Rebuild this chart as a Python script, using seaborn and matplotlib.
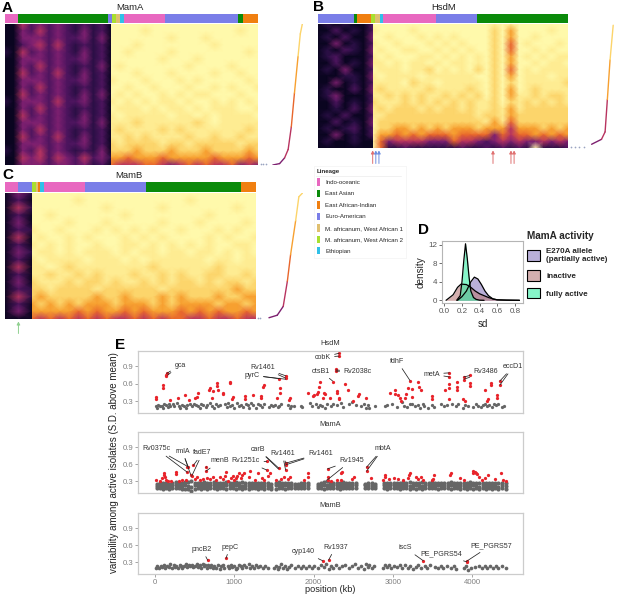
import numpy as np
import pandas as pd
import matplotlib
matplotlib.use("Agg")
import matplotlib.pyplot as plt
import seaborn as sns
from matplotlib.colors import LinearSegmentedColormap, to_rgb
from matplotlib.lines import Line2D
from matplotlib.patches import Patch

# shared lineage colours
lineage_names = ["Indo-oceanic", "East Asian", "East African-Indian", "Euro-American",
                 "M. africanum, West African 1", "M. africanum, West African 2", "Ethiopian"]
lineage_colors = ["#e868c0", "#0a8a0a", "#f07f10", "#7a7ee8", "#e0c070", "#a8e030", "#30c0e8"]

# isolates per lineage block along the top of each heatmap (lineage index, width)
bar_a = [(0, 38), (1, 272), (3, 10), (5, 12), (4, 13), (6, 11), (0, 122), (3, 219), (1, 17), (2, 44)]
bar_b = [(3, 107), (1, 9), (2, 44), (5, 10), (4, 16), (6, 10), (0, 159), (3, 123), (1, 272)]
bar_c = [(0, 38), (3, 43), (5, 11), (4, 6), (2, 8), (6, 11), (0, 122), (3, 182), (1, 287), (2, 44)]

# coarse methylation levels 0-9, one string per row of genes (inactive | active isolates)
heat_a = [
    "0042323212120 999999999999999999",
    "0032423213120 999989999999999899",
    "0033323223130 999999989998999999",
    "0023424212120 999899999999899999",
    "1042323213120 998999989999999989",
    "0033323223120 999999899989999999",
    "0032423212130 989999999899998999",
    "0042324213120 999899989999899899",
    "0033323223120 899989998989999989",
    "0032423212120 998998999899898998",
    "0042323213130 989899898988999899",
    "1033324223120 898989889899898989",
    "0032423212120 988898988989888998",
    "0042323213120 898888898898988889",
    "0033323223130 888788888878988888",
    "0032423212120 878888787888888878",
    "0042324213120 887878888788788788",
    "0033323223120 787777877877777877",
    "1032423212130 777677767776777767",
    "0043424324231 665666566666566656",
    "0033323323120 544455434545445343",
]
heat_b = [
    "0101002 9999999999999998989999999",
    "0020102 8999989999999997969999899",
    "0102003 9989998989899997969989999",
    "0030102 8998999898989997959899989",
    "0102103 9899889989898997959989899",
    "0120002 8989998898989897969898988",
    "0020103 8898988989889897969989889",
    "0103002 9888988798989797959898888",
    "0001103 8988889888888997969888988",
    "0030102 8888978898888897979888887",
    "0100203 8788888788887897969878888",
    "0130002 8878787887878797968878778",
    "0020102 7888787878787887978787878",
    "0010203 8787778787787887868777777",
    "0102002 8877777777777877867777777",
    "0020103 9777777777777786857777777",
    "0101202 9776676767666766646667676",
    "0030102 9665656555655553545565656",
    "0100100 9534444333544323434334343",
    "0000000 9511211111121121212191112",
]
heat_c = [
    "031 9999999999999999999999999",
    "020 9999989999999999989999999",
    "041 9999999989999989999999899",
    "020 9989999999899999999899999",
    "030 9999899989999989998999989",
    "021 8998999898989899899989899",
    "040 9899898999898989999898998",
    "020 8989899899889898989899889",
    "031 9889898889898898898898989",
    "020 8988889888989888888988988",
    "040 8898788888888788888878888",
    "020 8878878788878878788778878",
    "030 7888787787887878778787787",
    "021 7787777877777787777777677",
    "041 7677777677677767677767766",
    "020 6767676667666767666676676",
    "030 6666656566565666565656656",
    "000 5454545454454545544544544",
]
heat_levels = ["#0a0520", "#2a0f45", "#4f1560", "#7d2070", "#b83460",
               "#e8662c", "#f7a030", "#fcd46a", "#feec92", "#fff9ab"]

# sorted mean per gene next to each heatmap (share of panel width, rank share)
curve_a_x = [0.33, 0.48, 0.59, 0.67, 0.74, 0.81, 0.89, 0.94, 0.985]
curve_a_y = [0.0, 0.01, 0.05, 0.11, 0.27, 0.51, 0.77, 0.93, 1.0]
curve_a_tail = [0.07, 0.12, 0.18]
curve_b_x = [0.48, 0.70, 0.78, 0.83, 0.89, 0.96]
curve_b_y = [0.03, 0.07, 0.13, 0.39, 0.71, 0.99]
curve_b_tail = [0.03, 0.12, 0.20, 0.30]
curve_c_x = [0.26, 0.44, 0.57, 0.66, 0.73, 0.84, 0.91, 0.99]
curve_c_y = [0.01, 0.03, 0.10, 0.30, 0.51, 0.78, 0.97, 1.0]
curve_c_tail = [0.03, 0.06]

# marked isolates, in heatmap columns
arrows_b_red = [7.0, 22.4, 24.7, 25.1]
arrows_b_blue = [7.4, 7.8]
arrows_c_green = [1.5]

# panel D densities
sd_grid_e270a = [0.15, 0.20, 0.25, 0.30, 0.34, 0.38, 0.42, 0.46, 0.50, 0.55, 0.60, 0.70, 0.85]
dens_e270a = [0, 0.8, 2.0, 4.0, 5.0, 4.6, 3.4, 2.0, 1.0, 0.3, 0.1, 0.03, 0]
sd_grid_inactive = [0.02, 0.10, 0.15, 0.19, 0.25, 0.30, 0.35, 0.40, 0.45, 0.50, 0.55, 0.60, 0.70, 0.85]
dens_inactive = [0, 1.2, 2.8, 3.5, 3.4, 2.8, 2.0, 1.4, 1.0, 0.6, 0.3, 0.1, 0.05, 0]
sd_grid_active = [0.14, 0.18, 0.20, 0.22, 0.24, 0.26, 0.28, 0.30, 0.33, 0.36, 0.40, 0.45]
dens_active = [0, 1.0, 4.0, 8.5, 12.2, 9.0, 5.0, 2.0, 0.6, 0.2, 0.03, 0]
activity_labels = ["E270A allele\n(partially active)", "inactive", "fully active"]
activity_colors = ["#8f7fc0", "#b87c7c", "#3cf0a8"]

# panel E, (position kb, sd)
hsdm_red = [(13, .33), (13, .37), (105, .53), (105, .58), (139, .73), (139, .76), (147, .79), (189, .32),
            (294, .35), (378, .40), (433, .32), (504, .36), (525, .38), (545, .44), (685, .50), (690, .52),
            (714, .36), (727, .47), (777, .57), (785, .61), (798, .49), (860, .42), (861, .45), (945, .61),
            (950, .63), (966, .34), (985, .37), (1139, .34), (1139, .39), (1231, .41), (1332, .35), (1336, .39),
            (1366, .55), (1370, .58), (1534, .36), (1576, .45), (1580, .52), (1563, .68), (1647, .70), (1647, .73),
            (1693, .32), (1700, .36), (1933, .45), (1987, .39), (2000, .41), (2038, .42), (2055, .46), (2071, .55),
            (2075, .63), (2122, .36), (2130, .44), (2145, .42), (2206, .35), (2239, .64), (2282, .82), (2282, .85),
            (2290, .48), (2300, .44), (2315, .36), (2323, .33), (2323, 1.08), (2323, 1.13), (2395, .60), (2437, .49),
            (2500, .31), (2563, .39), (2570, .42), (2660, .36), (2962, .45), (3025, .43), (3030, .50), (3070, .40),
            (3088, .36), (3100, .31), (3151, .36), (3160, .42), (3193, .52), (3214, .65), (3235, .51), (3235, .38),
            (3319, .64), (3330, .55), (3349, .49), (3496, .34), (3496, .39), (3655, .49), (3706, .52), (3710, .59),
            (3710, .72), (3710, .79), (3706, .33), (3803, .50), (3810, .54), (3810, .64), (3887, .33), (3895, .66),
            (3895, .72), (3907, .31), (3971, .57), (3971, .61), (3975, .75), (4160, .50), (4180, .31), (4202, .33),
            (4307, .36), (4307, .40), (4349, .58), (4349, .65), (4240, .58), (4240, .62)]
hsdm_gray = [(15, .21), (25, .18), (35, .24), (60, .22), (85, .21), (100, .19), (120, .25), (140, .23), (160, .20),
             (175, .26), (190, .21), (225, .25), (240, .22), (280, .27), (300, .22), (320, .19), (345, .24), (365, .21),
             (385, .18), (410, .23), (440, .25), (470, .22), (495, .26), (515, .24), (540, .21), (565, .18), (585, .26),
             (610, .23), (640, .20), (660, .24), (690, .27), (720, .22), (745, .18), (770, .25), (795, .21), (825, .24),
             (880, .25), (905, .20), (925, .27), (945, .22), (970, .24), (995, .18), (1030, .27), (1055, .22), (1085, .24),
             (1110, .20), (1145, .26), (1170, .24), (1185, .18), (1215, .27), (1240, .23), (1275, .19), (1300, .26),
             (1325, .24), (1350, .20), (1380, .25), (1440, .20), (1465, .23), (1490, .21), (1515, .24), (1545, .20),
             (1570, .22), (1590, .25), (1680, .24), (1700, .18), (1720, .22), (1755, .21), (1840, .22), (1850, .20),
             (1960, .27), (1985, .22), (2035, .25), (2060, .20), (2080, .24), (2110, .21), (2140, .19), (2175, .25),
             (2220, .21), (2245, .26), (2290, .23), (2345, .27), (2375, .20), (2445, .26), (2490, .28), (2530, .23),
             (2600, .21), (2640, .26), (2660, .19), (2680, .23), (2700, .18), (2770, .22), (2900, .21), (2930, .24),
             (2990, .25), (3050, .20), (3110, .28), (3140, .22), (3180, .20), (3210, .25), (3245, .26), (3275, .21),
             (3310, .24), (3345, .19), (3375, .25), (3395, .22), (3440, .18), (3490, .24), (3520, .20), (3610, .25),
             (3650, .21), (3680, .24), (3745, .25), (3790, .22), (3825, .25), (3880, .18), (3915, .24), (3950, .21),
             (4010, .20), (4045, .26), (4075, .22), (4105, .20), (4135, .24), (4165, .26), (4190, .21), (4215, .24),
             (4250, .20), (4270, .26), (4300, .23), (4330, .25), (4375, .20), (4400, .22)]

mama_red = [(13, .32), (60, .30), (90, .36), (110, .42), (115, .45), (125, .37), (135, .33), (170, .31), (200, .30),
            (265, .43), (270, .46), (300, .31), (345, .33), (395, .32), (408, .46), (408, .56), (420, .55), (450, .42),
            (462, .39), (483, .58), (505, .34), (530, .37), (565, .33), (600, .35), (643, .48), (643, .55), (655, .36),
            (700, .34), (730, .38), (770, .33), (825, .37), (860, .35), (885, .40), (890, .46), (915, .31), (960, .36),
            (990, .40), (1000, .33), (1020, .36), (1040, .39), (1055, .44), (1080, .36), (1100, .41), (1125, .44),
            (1180, .38), (1195, .49), (1260, .32), (1300, .45), (1350, .36), (1375, .33), (1408, .50), (1408, .65),
            (1430, .40), (1445, .44), (1520, .32), (1563, .53), (1590, .34), (1625, .37), (1647, .50), (1647, .59),
            (1647, .63), (1680, .34), (1700, .38), (1880, .32), (1930, .38), (1935, .44), (2176, .33), (2176, .38),
            (2176, .52), (2220, .31), (2300, .33), (2340, .32), (2350, .44), (2355, .46), (2490, .34), (2510, .38),
            (2668, .48), (2668, .55), (2720, .36), (2880, .33), (2900, .38), (2905, .41), (2950, .34), (3010, .36),
            (3070, .35), (3130, .33), (3195, .36), (3205, .41), (3210, .45), (3290, .37), (3320, .35), (3350, .38),
            (3385, .32), (3500, .35), (3520, .42), (3490, .33), (3720, .41), (3730, .45), (3900, .33), (3850, .36),
            (4005, .45), (4010, .49), (4030, .47), (4050, .44), (4065, .43), (4080, .37), (4120, .33), (4165, .36),
            (4200, .41), (4290, .34), (4360, .44), (4385, .32), (4430, .31)]
# three levels of the grey band at each position (kb, low, mid, high)
mama_band = [(20, .18, .22, .26), (60, .19, .23, .27), (100, .17, .22, .28), (140, .18, .23, .27), (180, .17, .21, .26),
             (220, .18, .23, .28), (260, .19, .24, .29), (300, .18, .22, .27), (340, .16, .22, .28), (380, .17, .23, .29),
             (420, .16, .22, .29), (460, .13, .21, .30), (500, .17, .23, .28), (540, .18, .23, .28), (580, .16, .22, .28),
             (620, .19, .24, .29), (660, .17, .22, .28), (700, .18, .23, .27), (740, .18, .24, .29), (780, .16, .22, .27),
             (820, .19, .23, .27), (860, .18, .22, .28), (900, .17, .23, .29), (940, .19, .24, .28), (980, .18, .22, .27),
             (1020, .17, .23, .29), (1060, .18, .24, .28), (1100, .17, .22, .29), (1140, .18, .23, .27), (1180, .17, .22, .28),
             (1220, .19, .24, .28), (1260, .18, .23, .27), (1300, .17, .22, .28), (1340, .19, .23, .27), (1380, .17, .22, .28),
             (1420, .18, .23, .27), (1460, .17, .21, .26), (1520, .17, .23, .27), (1560, .19, .24, .29), (1600, .18, .22, .27),
             (1640, .17, .23, .28), (1680, .18, .24, .28), (1720, .19, .23, .27), (1760, .18, .22, .26), (1800, .19, .23, .26),
             (1840, .18, .23, .27), (1880, .18, .22, .27), (1930, .19, .23, .27), (2050, .19, .22, .26), (2090, .18, .23, .28),
             (2130, .17, .23, .29), (2170, .18, .24, .30), (2210, .18, .23, .28), (2250, .19, .24, .28), (2290, .18, .23, .27),
             (2330, .17, .22, .28), (2370, .18, .24, .29), (2410, .19, .23, .27), (2450, .18, .22, .27), (2490, .19, .24, .28),
             (2530, .18, .23, .27), (2650, .19, .23, .26), (2690, .18, .22, .27), (2730, .19, .23, .27), (2780, .18, .22, .26),
             (2885, .18, .23, .28), (2925, .17, .22, .27), (2965, .18, .23, .27), (3010, .18, .23, .28), (3050, .19, .24, .28),
             (3090, .17, .22, .27), (3130, .18, .23, .29), (3170, .18, .24, .28), (3210, .17, .22, .29), (3250, .19, .23, .27),
             (3290, .17, .23, .28), (3330, .18, .22, .27), (3370, .16, .22, .29), (3410, .18, .23, .27), (3450, .19, .24, .28),
             (3490, .18, .23, .29), (3530, .18, .22, .27), (3570, .17, .23, .28), (3610, .19, .24, .28), (3650, .18, .22, .27),
             (3690, .18, .23, .28), (3730, .17, .23, .29), (3770, .19, .24, .28), (3810, .18, .22, .27), (3850, .17, .22, .28),
             (3890, .18, .23, .27), (3930, .17, .22, .28), (3970, .18, .24, .29), (4010, .17, .23, .28), (4050, .18, .22, .27),
             (4090, .16, .21, .27), (4130, .18, .23, .28), (4170, .17, .22, .27), (4210, .18, .24, .28), (4250, .17, .22, .28),
             (4290, .18, .23, .27), (4330, .16, .21, .27), (4370, .18, .23, .28), (4420, .17, .22, .27)]

mamb_red = [(664, .34), (895, .37), (2113, .33), (2189, .34), (3382, .33), (3929, .31), (3936, .33)]
mamb_gray = [(15, .21), (30, .24), (50, .20), (70, .23), (90, .22), (110, .25), (130, .21), (150, .24), (175, .22), (195, .27),
             (215, .20), (235, .25), (250, .22), (270, .24), (290, .21), (310, .25), (325, .23), (345, .20), (365, .24), (385, .27),
             (405, .22), (425, .25), (445, .23), (465, .26), (485, .22), (505, .24), (525, .27), (545, .22), (565, .25), (585, .21),
             (600, .27), (615, .23), (630, .26), (650, .21), (670, .25), (690, .22), (710, .26), (730, .20), (750, .24), (770, .21),
             (795, .25), (815, .19), (835, .23), (855, .26), (875, .21), (915, .24), (935, .20), (955, .26), (975, .22), (1000, .24),
             (1020, .18), (1040, .21), (1060, .26), (1080, .23), (1100, .20), (1125, .25), (1150, .22), (1180, .27), (1200, .21), (1225, .24),
             (1250, .21), (1280, .25), (1300, .22), (1330, .24), (1360, .20), (1390, .23), (1420, .21), (1500, .20), (1525, .24), (1545, .18),
             (1570, .22), (1590, .27), (1610, .20), (1640, .24), (1660, .19), (1690, .22), (1720, .25), (1760, .21), (1800, .23), (1840, .20),
             (1870, .24), (1900, .21), (1940, .24), (1975, .21), (2010, .23), (2050, .20), (2090, .25), (2130, .22), (2160, .27), (2190, .19),
             (2215, .24), (2240, .21), (2280, .26), (2320, .21), (2360, .24), (2400, .26), (2440, .20), (2480, .24), (2520, .27), (2560, .21),
             (2595, .23), (2640, .19), (2660, .27), (2680, .22), (2700, .26), (2730, .20), (2765, .23), (2870, .21), (2895, .26), (2920, .22),
             (2950, .25), (2980, .20), (3010, .24), (3050, .22), (3085, .26), (3120, .21), (3155, .25), (3190, .20), (3220, .23), (3250, .18),
             (3285, .22), (3320, .25), (3350, .20), (3405, .24), (3430, .21), (3470, .25), (3530, .22), (3565, .20), (3600, .23), (3635, .21),
             (3680, .24), (3730, .20), (3770, .23), (3800, .19), (3900, .20), (3925, .24), (3945, .17), (3990, .20), (4030, .22), (4090, .24),
             (4125, .20), (4160, .23), (4190, .21), (4225, .24), (4260, .20), (4300, .23), (4330, .21), (4375, .24), (4420, .21)]

# gene label: text x, text y, then the isolates its leader lines reach
hsdm_labels = [("gca", 315, .92, [(147, .78), (160, .75)]), ("Rv1461", 1357, .88, [(1647, .74), (1647, .70)]),
               ("pyrC", 1223, .75, [(1563, .69), (1647, .68)]), ("cobK", 2113, 1.06, [(2323, 1.13), (2323, 1.08)]),
               ("otsB1", 2088, .82, [(2239, .65)]), ("Rv2038c", 2555, .81, [(2282, .84), (2282, .82)]),
               ("fdhF", 3055, .99, [(3214, .66)]), ("metA", 3487, .77, [(3710, .79), (3710, .72)]),
               ("Rv3486", 4172, .81, [(3895, .72), (3895, .68)]), ("eccD1", 4517, .90, [(4349, .65), (4349, .58)])]
mama_labels = [("Rv0375c", 21, .87, [(408, .565), (408, .46)]), ("rmlA", 345, .83, [(420, .55), (450, .42)]),
               ("fadE7", 600, .80, [(483, .58), (462, .39)]), ("menB", 819, .66, [(643, .55), (643, .48)]),
               ("Rv1251c", 1147, .66, [(1408, .65), (1408, .50)]), ("carB", 1303, .86, [(1563, .53), (1555, .52)]),
               ("Rv1461", 1605, .79, [(1647, .63), (1647, .50)]), ("Rv1461", 2084, .79, [(1647, .62), (1647, .59)]),
               ("Rv1945", 2479, .67, [(2176, .52), (2176, .33)]), ("mbtA", 2870, .87, [(2668, .55), (2668, .48)])]
mamb_labels = [("pncB2", 592, .53, [(664, .34)]), ("pepC", 945, .57, [(895, .37)]), ("cyp140", 1870, .49, [(2113, .33)]),
               ("Rv1937", 2277, .57, [(2189, .34)]), ("iscS", 3151, .56, [(3382, .33)]),
               ("PE_PGRS54", 3613, .45, [(3929, .31)]), ("PE_PGRS57", 4235, .60, [(3929, .32)])]

sns.set_theme(style="white")
plt.rcParams["font.family"] = ["Liberation Sans", "DejaVu Sans"]

W, H = 617, 597
fig = plt.figure(figsize=(W / 100, H / 100), dpi=100)
level_cmap = LinearSegmentedColormap.from_list("levels", heat_levels)


def axes_px(left, top, right, bottom):
    return fig.add_axes([left / W, 1 - bottom / H, (right - left) / W, (bottom - top) / H])


def heat_block(rows, left, right, top, bottom):
    # gouraud needs its own extent, seaborn assumes cell edges
    ax = axes_px(left, top, right, bottom)
    df = pd.DataFrame([[int(c) for c in r] for r in rows])
    sns.heatmap(df, ax=ax, cmap=level_cmap, vmin=0, vmax=9, cbar=False,
                xticklabels=False, yticklabels=False, shading="gouraud")
    ax.set_xlim(0, df.shape[1] - 1)
    ax.set_ylim(df.shape[0] - 1, 0)
    return ax


def draw_heat(rows, bar, left, right, top, bottom, bar_top, bar_bottom, title, title_x):
    dark = [r.split()[0] for r in rows]
    bright = [r.split()[1] for r in rows]
    n_cols = len(dark[0]) + len(bright[0])
    split = left + (right - left) * len(dark[0]) / n_cols
    heat_block(dark, left, split, top, bottom)
    heat_block(bright, split, right, top, bottom)
    overlay = axes_px(left, top, right, bottom)
    overlay.set_xlim(0, n_cols)
    overlay.axis("off")
    bax = axes_px(left, bar_top, right, bar_bottom)
    start = 0
    for idx, width in bar:
        bax.barh(0, width, left=start, height=1, color=lineage_colors[idx], linewidth=0)
        start += width
    bax.set_xlim(0, start)
    bax.set_ylim(-0.5, 0.5)
    bax.axis("off")
    fig.text(title_x / W, 1 - (bar_top - 6) / H, title, ha="center", va="center", fontsize=6.8, color="#222222")
    return overlay


def draw_curve(xs, ys, tail, left, right, top, bottom):
    ax = axes_px(left, top, right, bottom)
    for i in range(len(xs) - 1):
        level = 3.2 + 4.3 * (ys[i] + ys[i + 1]) / 2
        sns.lineplot(x=xs[i:i + 2], y=ys[i:i + 2], ax=ax, color=to_rgb(heat_levels[int(round(level))]),
                     linewidth=1.0, errorbar=None, sort=False)
    sns.scatterplot(x=tail, y=[0.005] * len(tail), ax=ax, color="#9aa4c0", s=1.5, linewidth=0, clip_on=False)
    ax.set_xlim(0, 1)
    ax.set_ylim(0, 1)
    ax.axis("off")


ax_a = draw_heat(heat_a, bar_a, 5, 258, 24, 165, 14, 23, "MamA", 130)
ax_b = draw_heat(heat_b, bar_b, 318, 568, 24, 148, 14, 23, "HsdM", 444)
ax_c = draw_heat(heat_c, bar_c, 5, 256, 193, 319, 182, 192, "MamB", 129)
draw_curve(curve_a_x, curve_a_y, curve_a_tail, 258, 303, 24, 165)
draw_curve(curve_b_x, curve_b_y, curve_b_tail, 570, 615, 24, 148)
draw_curve(curve_c_x, curve_c_y, curve_c_tail, 257, 303, 193, 319)


def mark_columns(ax, cols, color, start, end):
    for col in cols:
        ax.annotate("", xy=(col, start), xytext=(col, end), xycoords=ax.get_xaxis_transform(),
                    textcoords=ax.get_xaxis_transform(), annotation_clip=False,
                    arrowprops=dict(arrowstyle="-|>,head_width=0.08,head_length=0.15", color=color, lw=0.7, shrinkA=0, shrinkB=0))


mark_columns(ax_b, arrows_b_red, "#e07070", -0.02, -0.125)
mark_columns(ax_b, arrows_b_blue, "#6f8fe0", -0.02, -0.125)
mark_columns(ax_c, arrows_c_green, "#90d090", -0.02, -0.115)

# lineage legend
lin_handles = [Patch(facecolor=c, edgecolor="none") for c in lineage_colors]
lin_legend = fig.legend(lin_handles, lineage_names, loc="upper left", bbox_to_anchor=(314 / W, 1 - 166 / H),
                        title="Lineage", alignment="left", fontsize=4.4, frameon=True, borderaxespad=0,
                        title_fontproperties={"weight": "bold", "size": 4.4}, handlelength=0.45, handleheight=1.5,
                        handletextpad=0.9, labelspacing=0.66, borderpad=0.5)
lin_legend.get_frame().set_edgecolor("#efefef")
lin_legend.get_frame().set_linewidth(0.5)
lin_legend.get_frame().set_boxstyle("square", pad=0)
fig.add_artist(Line2D([316 / W, 401 / W], [1 - 176 / H, 1 - 176 / H], color="#b0b0b0", lw=0.6))

# density panel
ax_d = axes_px(442, 241, 523, 303)
dens_sets = [(sd_grid_e270a, dens_e270a), (sd_grid_inactive, dens_inactive), (sd_grid_active, dens_active)]
for (grid, dens), col in zip(dens_sets, activity_colors):
    ax_d.fill_between(grid, dens, 0, color=col, alpha=0.62, linewidth=0)
    sns.lineplot(x=grid, y=dens, ax=ax_d, color="black", linewidth=0.9, errorbar=None)
ax_d.set_xlim(-0.026, 0.89)
ax_d.set_ylim(-0.58, 12.8)
ax_d.set_xticks([0.0, 0.2, 0.4, 0.6, 0.8])
ax_d.set_xticklabels(["0.0", "0.2", "0.4", "0.6", "0.8"])
ax_d.set_yticks([0, 4, 8, 12])
ax_d.tick_params(labelsize=5.8, colors="#555555", length=2, width=0.6, pad=1.5, bottom=True, left=True)
ax_d.set_xlabel("sd", fontsize=7, labelpad=3)
ax_d.set_ylabel("density", fontsize=7.2, labelpad=2)
for spine in ax_d.spines.values():
    spine.set_edgecolor("#b5b5b5")
    spine.set_linewidth(0.8)

act_handles = [Patch(facecolor=to_rgb(c) + (0.62,), edgecolor="black", linewidth=0.8) for c in activity_colors]
act_legend = fig.legend(act_handles, activity_labels, loc="upper left", bbox_to_anchor=(527 / W, 1 - 231 / H),
                        title="MamA activity", alignment="left", frameon=False, borderaxespad=0, borderpad=0,
                        prop={"weight": "bold", "size": 5.75}, title_fontproperties={"weight": "bold", "size": 7.2},
                        handlelength=1.63, handleheight=1.63, handletextpad=0.8, labelspacing=0.9)


def draw_manhattan(top, bottom, title, red, gray, labels, show_x, gray_size=5.5):
    ax = axes_px(138, top, 523, bottom)
    sns.scatterplot(data=pd.DataFrame(gray, columns=["pos", "sd"]), x="pos", y="sd", ax=ax,
                    color="#666666", s=gray_size, linewidth=0)
    sns.scatterplot(data=pd.DataFrame(red, columns=["pos", "sd"]), x="pos", y="sd", ax=ax,
                    color="#e8232a", s=5.5, linewidth=0)
    for name, tx, ty, tips in labels:
        for i, tip in enumerate(tips):
            ax.annotate(name, xy=tip, xytext=(tx, ty), fontsize=5.1, ha="center", va="center",
                        color="#333333" if i == 0 else "none", annotation_clip=False,
                        arrowprops=dict(arrowstyle="-", color="#222222", lw=0.55, shrinkA=0.5, shrinkB=0))
    ax.set_xlim(-214, 4640)
    ax.set_ylim(0.096, 1.168)
    ax.set_yticks([0.3, 0.6, 0.9])
    ax.set_xticks([0, 1000, 2000, 3000, 4000] if show_x else [])
    ax.set_xlabel("")
    ax.set_ylabel("")
    ax.tick_params(labelsize=5.6, colors="#808080", length=2, width=0.5, pad=1.5, left=True, bottom=show_x)
    for spine in ax.spines.values():
        spine.set_edgecolor("#cccccc")
        spine.set_linewidth(0.9)
    ax.set_title(title, fontsize=5.4, color="#333333", pad=4)
    return ax


mama_gray = [(b[0], level) for b in mama_band for level in b[1:]]
draw_manhattan(351, 413, "HsdM", hsdm_red, hsdm_gray, hsdm_labels, False)
draw_manhattan(432, 493, "MamA", mama_red, mama_gray, mama_labels, False, gray_size=9)
draw_manhattan(513, 574, "MamB", mamb_red, mamb_gray, mamb_labels, True, gray_size=7)

fig.text(114 / W, 1 - 463 / H, "variability among active isolates (S.D. above mean)", rotation=90,
         ha="center", va="center", fontsize=7, color="#222222")
fig.text(330 / W, 1 - 590 / H, "position (kb)", ha="center", va="center", fontsize=6.6, color="#222222")

for letter, x, y in [("A", 2, 8), ("B", 313, 7), ("C", 2, 175), ("D", 418, 230), ("E", 115, 345)]:
    fig.text(x / W, 1 - y / H, letter, fontsize=11, fontweight="bold", ha="left", va="center", color="black")

fig.savefig("out.png", dpi=100)
